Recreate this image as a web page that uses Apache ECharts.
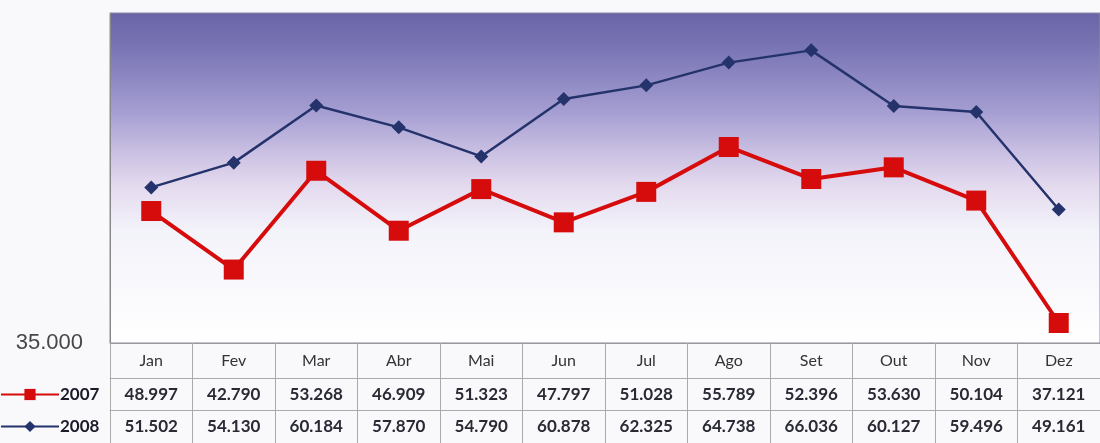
<!DOCTYPE html>
<html>
<head>
<meta charset="utf-8">
<script src="https://cdn.jsdelivr.net/npm/echarts@6/dist/echarts.min.js"></script>
<style>
html,body{margin:0;padding:0;background:#f9f9fc;}
#chart{width:1100px;height:443px;}
</style>
</head>
<body>
<div id="chart"></div>
<script>
const months = ['Jan','Fev','Mar','Abr','Mai','Jun','Jul','Ago','Set','Out','Nov','Dez'];
const seriesNames = ['2007','2008'];
const values2007 = [48997, 42790, 53268, 46909, 51323, 47797, 51028, 55789, 52396, 53630, 50104, 37121];
const values2008 = [51502, 54130, 60184, 57870, 54790, 60878, 62325, 64738, 66036, 60127, 59496, 49161];
const yMin = 35000, yMax = 70000, yStep = 5000;

function fmt(v){
  const s = String(Math.round(v));
  return s.replace(/\B(?=(\d{3})+(?!\d))/g, '.');
}

const tableFont = 'Lato, "Open Sans", sans-serif';
const legendBase = {
  left: 0, orient: 'horizontal', padding: 0,
  itemWidth: 58, itemHeight: 14,
  textStyle: {fontFamily: tableFont, fontSize: 17, fontWeight: 'bold', color: '#1a1a2a', padding: [0,0,0,-4]}
};
const chart = echarts.init(document.getElementById('chart'));
chart.setOption({
  animation: false,
  backgroundColor: '#f9f9fc',
  grid: {
    left: 110, top: 13, width: 995, bottom: 100,
    show: true,
    borderColor: '#8a8aa8', borderWidth: 1,
    backgroundColor: new echarts.graphic.LinearGradient(0, 0, 0, 1, [
      {offset: 0, color: '#6864a6'},
      {offset: 0.12, color: '#7c78b7'},
      {offset: 0.3, color: '#a59ed2'},
      {offset: 0.42, color: '#c9bfe2'},
      {offset: 0.52, color: '#e3d9ee'},
      {offset: 0.66, color: '#f3f3fa'},
      {offset: 1, color: '#ffffff'}
    ])
  },
  legend: [
    Object.assign({}, legendBase, {top: 386, data: [seriesNames[0]]}),
    Object.assign({}, legendBase, {top: 418, data: [seriesNames[1]]})
  ],
  xAxis: [
    {
      type: 'category', data: months, boundaryGap: true, position: 'bottom',
      axisLine: {show: true, lineStyle: {color: '#999'}},
      axisTick: {show: true, length: 100, lineStyle: {color: '#aaa'}},
      axisLabel: {margin: 10, fontFamily: tableFont, fontSize: 16, color: '#333'}
    },
    {
      type: 'category', data: months, boundaryGap: true, position: 'bottom', offset: 35,
      axisLine: {show: true, lineStyle: {color: '#aaa'}},
      axisTick: {show: false},
      axisLabel: {margin: 8, fontFamily: tableFont, fontSize: 17, fontWeight: 'bold', color: '#2a2a35',
        formatter: (v, i) => fmt(values2007[i])}
    },
    {
      type: 'category', data: months, boundaryGap: true, position: 'bottom', offset: 67,
      axisLine: {show: true, lineStyle: {color: '#aaa'}},
      axisTick: {show: false},
      axisLabel: {margin: 8, fontFamily: tableFont, fontSize: 17, fontWeight: 'bold', color: '#2a2a35',
        formatter: (v, i) => fmt(values2008[i])}
    }
  ],
  yAxis: {
    type: 'value', min: yMin, max: yMax, interval: yStep,
    splitLine: {show: false},
    axisLine: {show: true, lineStyle: {color: '#888'}},
    axisTick: {show: false},
    axisLabel: {
      margin: 27, fontFamily: '"Liberation Sans", Arial, sans-serif', fontSize: 22, color: '#474747',
      formatter: v => v === yMin ? fmt(v) : ''
    }
  },
  series: [
    {
      name: seriesNames[0], type: 'line', data: values2007,
      symbol: 'rect', symbolSize: 20,
      lineStyle: {color: '#d60b0b', width: 4},
      itemStyle: {color: '#d60b0b'}
    },
    {
      name: seriesNames[1], type: 'line', data: values2008,
      symbol: 'diamond', symbolSize: 14,
      lineStyle: {color: '#25336c', width: 2.5},
      itemStyle: {color: '#25336c'}
    }
  ]
});
</script>
</body>
</html>
